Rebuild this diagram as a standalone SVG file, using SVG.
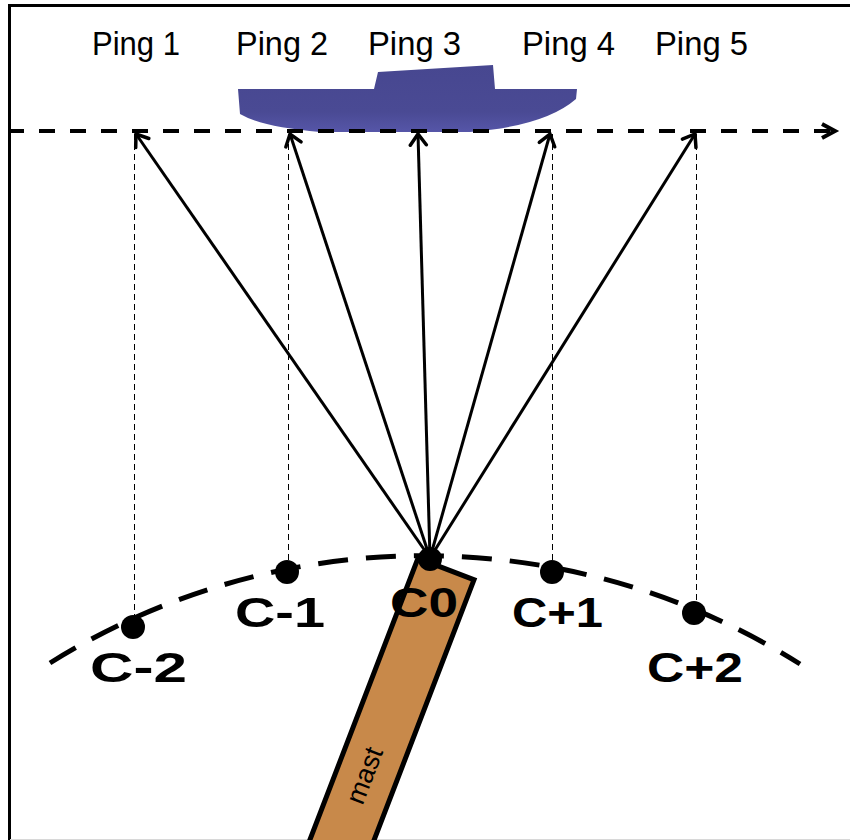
<svg xmlns="http://www.w3.org/2000/svg" width="850" height="840" viewBox="0 0 850 840">
  <defs>
    <marker id="chev" markerUnits="userSpaceOnUse" markerWidth="24" markerHeight="24" refX="15" refY="10" orient="auto">
      <path d="M4,2 L15,10 L4,18" fill="none" stroke="#000" stroke-width="3.5" stroke-linecap="round" stroke-linejoin="miter"/>
    </marker>
    <linearGradient id="hull" x1="0" y1="0" x2="0" y2="1">
      <stop offset="0" stop-color="#474790"/>
      <stop offset="0.7" stop-color="#4a4a94"/>
      <stop offset="1" stop-color="#5656a8"/>
    </linearGradient>
    <style>
      .ping { font-family: "Liberation Sans", "Noto Sans", sans-serif; font-size: 33px; fill: #000; }
      .clab { font-family: "Liberation Sans", "Noto Sans", sans-serif; font-size: 42px; font-weight: bold; fill: #000; }
      .ray { stroke: #000; stroke-width: 3; fill: none; marker-end: url(#chev); }
      .drop { stroke: #000; stroke-width: 1; stroke-dasharray: 6 4; fill: none; }
      .dot { fill: #000; }
    </style>
  </defs>

  <!-- frame -->
  <path d="M9.5,840 L9.5,5.5 L850,5.5" fill="none" stroke="#000" stroke-width="3"/>
  <line x1="10" y1="839.5" x2="850" y2="839.5" stroke="#d8d8d8" stroke-width="1"/>

  <!-- ship -->
  <g id="ship">
    <path d="M238,89 L374,89 L378,72 L493,65 L495,89 L577,89 L576,99 Q545,126 470,132 L320,132 Q262,127 240,114 Z" fill="url(#hull)"/>
  </g>

  <!-- ping labels -->
  <g id="pings">
    <text class="ping" x="92" y="55" textLength="88" lengthAdjust="spacingAndGlyphs">Ping 1</text>
    <text class="ping" x="236" y="55" textLength="92" lengthAdjust="spacingAndGlyphs">Ping 2</text>
    <text class="ping" x="368" y="55" textLength="93" lengthAdjust="spacingAndGlyphs">Ping 3</text>
    <text class="ping" x="522" y="55" textLength="93" lengthAdjust="spacingAndGlyphs">Ping 4</text>
    <text class="ping" x="655" y="55" textLength="93" lengthAdjust="spacingAndGlyphs">Ping 5</text>
  </g>

  <!-- track line of the ship -->
  <g id="track">
    <line x1="8" y1="131" x2="834" y2="131" stroke="#000" stroke-width="4" stroke-dasharray="16 15"/>
    <path d="M822,124 L835,131 L822,138" fill="none" stroke="#000" stroke-width="4"/>
  </g>

  <!-- arc along which the transducer positions lie -->
  <g id="arc">
    <path d="M50,663 A706,706 0 0 1 800,664" fill="none" stroke="#000" stroke-width="5" stroke-dasharray="30 18"/>
  </g>

  <!-- mast -->
  <g id="mast" transform="translate(446,569) rotate(21)">
    <rect x="-30" y="0" width="60" height="340" fill="#c8894a" stroke="#000" stroke-width="5"/>
    <text transform="translate(7,222) rotate(-90)" font-family="Liberation Sans, Noto Sans, sans-serif" font-size="27" text-anchor="middle" fill="#000">mast</text>
  </g>

  <!-- connectors -->
  <g id="connectors">
    <line class="drop" x1="134.5" y1="134" x2="134.5" y2="615"/>
    <line class="drop" x1="288.5" y1="134" x2="288.5" y2="562"/>
    <line class="drop" x1="552.5" y1="134" x2="552.5" y2="562"/>
    <line class="drop" x1="696.5" y1="134" x2="696.5" y2="602"/>
    <line class="ray" x1="430" y1="558" x2="136" y2="134"/>
    <line class="ray" x1="430" y1="558" x2="290" y2="134"/>
    <line class="ray" x1="430" y1="558" x2="418" y2="134"/>
    <line class="ray" x1="430" y1="558" x2="550" y2="134"/>
    <line class="ray" x1="430" y1="558" x2="695" y2="134"/>
  </g>

  <!-- transducer positions -->
  <g id="c-2"><circle class="dot" cx="133" cy="627" r="12"/><text class="clab" x="90" y="682" textLength="97" lengthAdjust="spacingAndGlyphs">C-2</text></g>
  <g id="c-1"><circle class="dot" cx="287" cy="572" r="12"/><text class="clab" x="235" y="627" textLength="90" lengthAdjust="spacingAndGlyphs">C-1</text></g>
  <g id="c0"><circle class="dot" cx="430" cy="559" r="12"/><text class="clab" x="390" y="617" textLength="68" lengthAdjust="spacingAndGlyphs">C0</text></g>
  <g id="c+1"><circle class="dot" cx="552" cy="572" r="12"/><text class="clab" x="512" y="627" textLength="91" lengthAdjust="spacingAndGlyphs">C+1</text></g>
  <g id="c+2"><circle class="dot" cx="694" cy="613" r="12"/><text class="clab" x="647" y="682" textLength="96" lengthAdjust="spacingAndGlyphs">C+2</text></g>
</svg>
